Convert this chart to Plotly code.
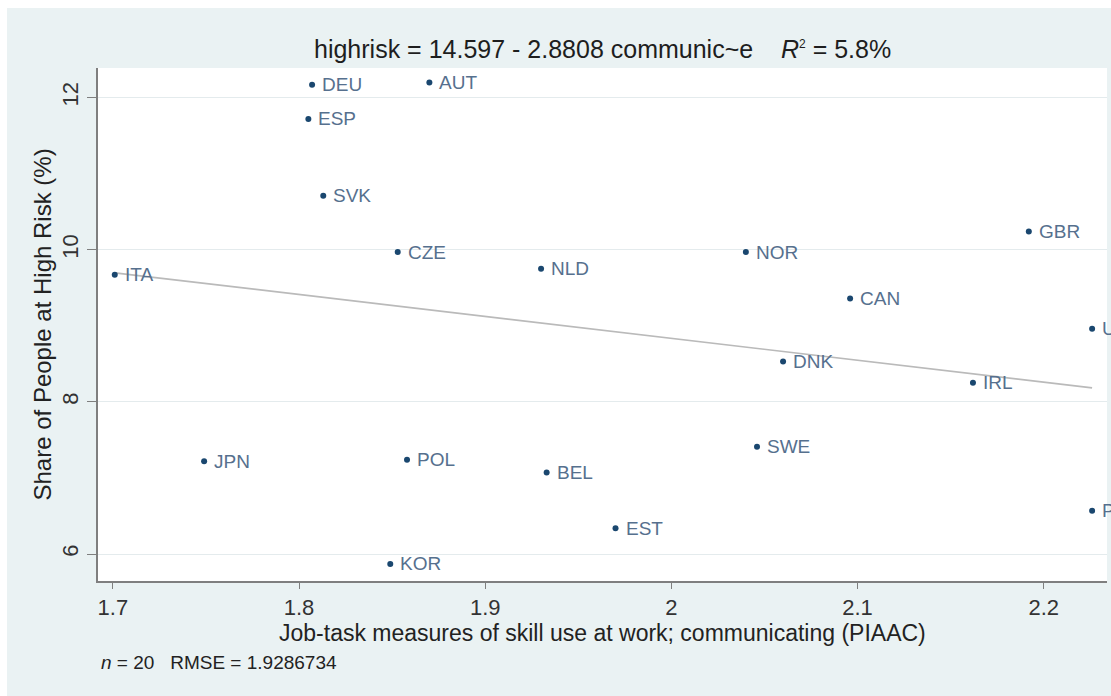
import plotly.graph_objects as go

# Country-level data: skill use at work (communicating) vs share at high risk
countries = ["DEU", "AUT", "ESP", "SVK", "CZE", "NLD", "NOR", "GBR", "ITA", "CAN",
             "USA", "DNK", "IRL", "JPN", "POL", "SWE", "BEL", "EST", "P", "KOR"]
communicating = [1.807, 1.870, 1.805, 1.813, 1.853, 1.930, 2.040, 2.192, 1.701, 2.096,
                 2.226, 2.060, 2.162, 1.749, 1.858, 2.046, 1.933, 1.970, 2.226, 1.849]
highrisk = [12.17, 12.20, 11.72, 10.71, 9.97, 9.75, 9.97, 10.24, 9.67, 9.36,
            8.96, 8.53, 8.25, 7.22, 7.24, 7.41, 7.07, 6.34, 6.57, 5.87]

# OLS fit reported in the header
intercept = 14.597
slope = -2.8808
r2_pct = 5.8
n_obs = 20
rmse = 1.9286734

x_ticks = [1.7, 1.8, 1.9, 2.0, 2.1, 2.2]
x_tick_text = ["1.7", "1.8", "1.9", "2", "2.1", "2.2"]
y_ticks = [6, 8, 10, 12]

FONT = "Arial, Liberation Sans, Helvetica, sans-serif"
NAVY = "#1a476f"
LABEL = "#56708e"
BG = "#eaf2f3"

# plot-area geometry in pixels
L, R, T, B = 98, 4, 68, 115
W, H = 1111, 696
PW, PH = W - L - R, H - T - B


def px_x(px):
    return (px - L) / PW


def px_y(py):
    return (H - B - py) / PH


fit_x = [min(communicating), max(communicating)]
fit_y = [intercept + slope * v for v in fit_x]

fig = go.Figure()

fig.add_trace(go.Scatter(
    x=fit_x, y=fit_y, mode="lines",
    line=dict(color="#bababa", width=1.7),
    hoverinfo="skip", showlegend=False,
))

fig.add_trace(go.Scatter(
    x=communicating, y=highrisk, mode="markers",
    marker=dict(size=6, color=NAVY),
    cliponaxis=False, showlegend=False,
))

# marker labels to the right of each point
annotations = [
    dict(x=cx, y=hy, xref="x", yref="y", text=name, showarrow=False,
         xanchor="left", yanchor="middle", xshift=8,
         font=dict(family=FONT, size=19, color=LABEL))
    for name, cx, hy in zip(countries, communicating, highrisk)
]

annotations += [
    dict(text=f"highrisk = {intercept:.3f} - {-slope:.4f} communic~e    "
              f"<i>R</i><sup><span style='font-size:12px'>2</span></sup> = {r2_pct}%",
         xref="paper", yref="paper", x=0.5, y=px_y(49),
         xanchor="center", yanchor="middle", showarrow=False,
         font=dict(size=25, color="#1e1e1e")),
    dict(text="Job-task measures of skill use at work; communicating (PIAAC)",
         xref="paper", yref="paper", x=0.5, y=px_y(633),
         xanchor="center", yanchor="middle", showarrow=False,
         font=dict(size=23, color="#222222")),
    dict(text="Share of People at High Risk (%)", textangle=-90,
         xref="paper", yref="paper", x=px_x(42), y=0.5,
         xanchor="center", yanchor="middle", showarrow=False,
         font=dict(size=24, color="#222222")),
    dict(text=f"<i>n</i> = {n_obs}   RMSE = {rmse}",
         xref="paper", yref="paper", x=px_x(99), y=px_y(662),
         xanchor="left", yanchor="middle", showarrow=False,
         font=dict(size=19, color="#222222")),
]

fig.update_layout(
    width=W, height=H,
    margin=dict(l=L, r=R, t=T, b=B),
    paper_bgcolor=BG, plot_bgcolor="white",
    font=dict(family=FONT, color="#222222"),
    xaxis=dict(
        range=[1.692, 2.234], tickvals=x_ticks, ticktext=x_tick_text,
        showgrid=False, zeroline=False,
        showline=True, linecolor="#7f7f7f", linewidth=2,
        ticks="outside", ticklen=6, tickwidth=1, tickcolor="#7f7f7f",
        tickfont=dict(size=22, color="#333333"),
    ),
    yaxis=dict(
        range=[5.645, 12.39], tickvals=y_ticks,
        showgrid=True, gridcolor="#e4ebed", gridwidth=1, zeroline=False,
        showline=True, linecolor="#7f7f7f", linewidth=2,
        ticks="outside", ticklen=9, tickwidth=1, tickcolor="#7f7f7f",
        tickangle=-90, tickfont=dict(size=22, color="#333333"),
    ),
    shapes=[
        # thin white frame along the top and left edges
        dict(type="rect", xref="paper", yref="paper", x0=-0.2, x1=1.2,
             y0=px_y(8), y1=1.4, fillcolor="white", line=dict(width=0)),
        dict(type="rect", xref="paper", yref="paper", x0=-0.2, x1=px_x(7),
             y0=-0.4, y1=1.4, fillcolor="white", line=dict(width=0)),
    ],
    annotations=annotations,
)

fig.write_html("out.html")
